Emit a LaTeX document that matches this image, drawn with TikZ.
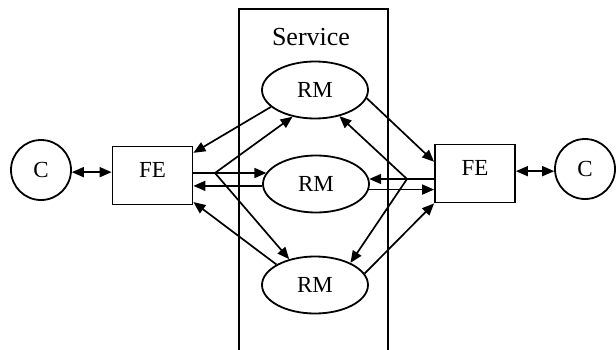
\documentclass[tikz,border=0pt]{standalone}
\usepackage{fontspec}
\setmainfont{Liberation Serif}
\usetikzlibrary{arrows.meta,shapes.geometric,calc}
\begin{document}
\begin{tikzpicture}[x=1pt,y=1pt,
  lbl/.style={font=\fontsize{23}{25}\selectfont},
  client/.style={lbl,draw,circle,line width=1.8pt,minimum size=60pt,inner sep=0pt},
  frontend/.style={lbl,draw,rectangle,line width=1.8pt,minimum width=80pt,inner sep=0pt,text height=31pt,text depth=27pt},
  rm/.style={lbl,draw,ellipse,line width=1.8pt,minimum width=106pt,minimum height=57pt,inner sep=0pt},
  link/.style={line width=1.7pt},
  arr/.style={link,-{Triangle[length=12pt,width=10pt]}},
  darr/.style={link,{Triangle[length=12pt,width=10pt]}-{Triangle[length=12pt,width=10pt]}}
]
\useasboundingbox (0,0) rectangle (616,349);
% service box (open at bottom)
\draw[line width=2.2pt] (239,-5) -- (239,340) -- (388,340) -- (388,-5);
\node[font=\fontsize{26}{28}\selectfont,anchor=base] (svc) at (311,304) {Service};

\node[client] (CL) at (41,179) {C};
\node[client] (CR) at (585,180) {C};
\node[frontend] (FEL) at (152.5,173.5) {FE};
\node[frontend] (FER) at (475,175.5) {FE};
\node[rm] (RM1) at (315,259) {RM};
\node[rm] (RM2) at (316,165) {RM};
\node[rm] (RM3) at (315,64) {RM};

% client <-> front ends
\draw[darr] (CL.-4) -- (CL.-4 -| FEL.west);
\draw[darr] (CR.184) -- (CR.184 -| FER.east);

% left fan
\coordinate (BL) at (215,176);
\draw[link] (FEL.east |- BL) -- (BL);
\draw[arr] (BL) -- (BL -| RM2.167);
\draw[arr] (BL) -- (RM1.230);
\draw[arr] (BL) -- (RM3.135);
\draw[arr] (RM1.201) -- (FEL.29);
\draw[arr] (RM2.182) -- (RM2.182 -| FEL.east);
\draw[arr] (RM3.152) -- (FEL.-33);

% right fan
\coordinate (BR) at (407,170);
\draw[link] (FER.west |- BR) -- (BR);
\draw[arr] (BR) -- (BR -| RM2.5);
\draw[arr] (BR) -- (RM1.-47);
\draw[arr] (BR) -- (RM3.32);
\draw[arr] (RM1.-9) -- (FER.164);
\draw[arr] (RM2.-6) -- (RM2.-6 -| FER.west);
\draw[arr] (RM3.13) -- (FER.south west);
\end{tikzpicture}
\end{document}
